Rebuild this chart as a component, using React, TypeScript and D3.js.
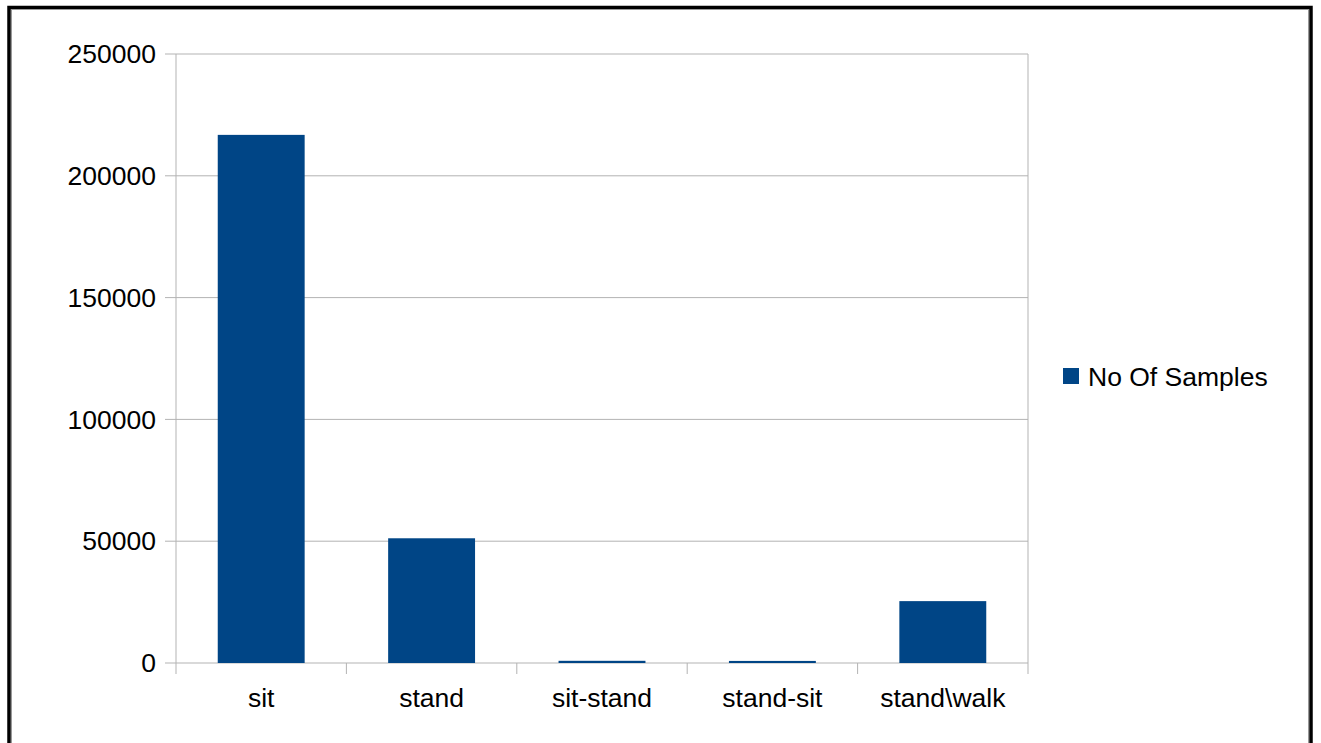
import { scaleBand, scaleLinear } from "d3";

const categories = ["sit", "stand", "sit-stand", "stand-sit", "stand\\walk"];
const samples = [216800, 51200, 900, 850, 25400];
const yTicks = [0, 50000, 100000, 150000, 200000, 250000];
const seriesName = "No Of Samples";

const W = 1321;
const H = 743;
const plot = { left: 176, right: 1028, top: 54, bottom: 663 };
const barColor = "#004586";
const gridColor = "#b3b3b3";
const font = "'Liberation Sans', Arial, sans-serif";
const fontSize = 26.5;

export default function App() {
  const x = scaleBand<string>()
    .domain(categories)
    .range([plot.left, plot.right])
    .paddingInner(0.49)
    .paddingOuter(0.245);

  const y = scaleLinear().domain([0, 250000]).range([plot.bottom, plot.top]);

  // band edges for the tick marks under the x axis
  const step = (plot.right - plot.left) / categories.length;
  const edges = categories.map((_, i) => plot.left + i * step).concat(plot.right);

  return (
    <div style={{ position: "absolute", left: 0, top: 0 }}>
      <svg width={W} height={H} style={{ display: "block", background: "#fff" }}>
        {/* outer frame */}
        <rect x={9} y={7.5} width={1302} height={780} fill="none" stroke="#000" strokeWidth={3.5} />
        <rect x={11.5} y={9.5} width={1297} height={776} fill="none" stroke="#999" strokeWidth={1} />

        {/* gridlines + y ticks */}
        {yTicks.map((t) => (
          <g key={t}>
            <line x1={plot.left - 11} x2={plot.right} y1={y(t)} y2={y(t)} stroke={gridColor} strokeWidth={1} />
            <text
              x={156}
              y={y(t)}
              dy="0.35em"
              textAnchor="end"
              fontFamily={font}
              fontSize={fontSize}
              fill="#000"
            >
              {t}
            </text>
          </g>
        ))}

        {/* plot side borders */}
        <line x1={plot.left} x2={plot.left} y1={plot.top} y2={plot.bottom} stroke={gridColor} />
        <line x1={plot.right} x2={plot.right} y1={plot.top} y2={plot.bottom} stroke={gridColor} />

        {/* x tick marks */}
        {edges.map((e, i) => (
          <line key={i} x1={e} x2={e} y1={plot.bottom} y2={plot.bottom + 11} stroke={gridColor} />
        ))}

        {/* bars */}
        {categories.map((c, i) => (
          <rect
            key={c}
            x={x(c)}
            y={y(samples[i])}
            width={x.bandwidth()}
            height={y(0) - y(samples[i])}
            fill={barColor}
          />
        ))}

        {/* category labels */}
        {categories.map((c) => (
          <text
            key={c}
            x={(x(c) ?? 0) + x.bandwidth() / 2}
            y={707}
            textAnchor="middle"
            fontFamily={font}
            fontSize={fontSize}
            fill="#000"
          >
            {c}
          </text>
        ))}

        {/* legend */}
        <rect x={1063} y={368} width={16} height={16} fill={barColor} />
        <text x={1088} y={386} fontFamily={font} fontSize={fontSize} fill="#000">
          {seriesName}
        </text>
      </svg>
    </div>
  );
}
